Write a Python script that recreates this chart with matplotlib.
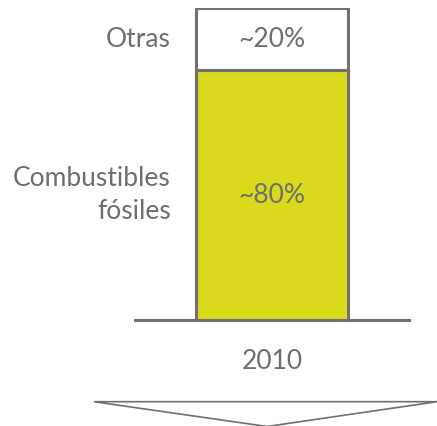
import matplotlib
matplotlib.use("Agg")
from matplotlib import pyplot as plt
from matplotlib.patches import Polygon

# data
year = ["2010"]
segments = ["Combustibles\nfósiles", "Otras"]
shares = [80, 20]
share_labels = ["~80%", "~20%"]
fills = ["#d9da1c", "#ffffff"]

edge_color = "#707070"
text_color = "#6e6e6e"
plt.rcParams['font.family'] = ['Lato', 'DejaVu Sans']
fs = 19

W, H = 437, 426
fig = plt.figure(figsize=(W / 100, H / 100), dpi=100)

# axes placed so that 0..100 spans pixel rows 320..8, baseline x 135..409
ax = fig.add_axes([135 / W, (H - 320) / H, 274 / W, 312 / H])
ax.set_xlim(-0.9, 0.9)
ax.set_ylim(0, 100)

bottom = 0
for name, val, lab, col in zip(segments, shares, share_labels, fills):
    ax.bar(0, val, width=1.0, bottom=bottom, color=col,
           edgecolor=edge_color, linewidth=2.2, zorder=2)
    mid = bottom + val / 2
    ax.text(0, mid, lab, ha='center', va='center', fontsize=fs,
            color=text_color)
    ax.text(-0.665, mid, name, ha='right', va='center', fontsize=fs,
            color=text_color, linespacing=1.38)
    bottom += val

for s in ['top', 'right', 'left']:
    ax.spines[s].set_visible(False)
ax.spines['bottom'].set_color(edge_color)
ax.spines['bottom'].set_linewidth(2.2)
ax.set_yticks([])
ax.set_xticks([0], year)
ax.tick_params(axis='x', length=0, pad=21, labelsize=fs, labelcolor=text_color)
ax.patch.set_alpha(0)

# down arrow below the chart, in pixel coords of the figure
arrow = Polygon([(94 / W, 1 - 401.7 / H), (437 / W, 1 - 401.7 / H),
                 (267 / W, 1 - 426.5 / H)], closed=True,
                facecolor='white', edgecolor=edge_color, linewidth=1.2,
                transform=fig.transFigure, clip_on=False)
fig.patches.append(arrow)

fig.savefig("out.png", dpi=100)
